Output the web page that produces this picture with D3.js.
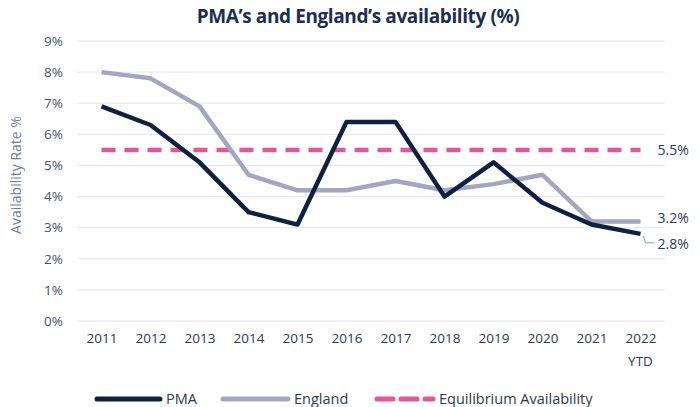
<!doctype html>
<html>
<head>
<meta charset="UTF-8">
<title>PMA availability</title>
<script src="https://d3js.org/d3.v7.min.js"></script>
<style>
  body { margin: 0; background: #fff; }
  * { font-family: "Open Sans", sans-serif; }
</style>
</head>
<body>
<svg id="chart" width="700" height="407"></svg>
<script>
// data
var years = ["2011","2012","2013","2014","2015","2016","2017","2018","2019","2020","2021","2022"];
var pma = [6.9, 6.3, 5.1, 3.5, 3.1, 6.4, 6.4, 4.0, 5.1, 3.8, 3.1, 2.8];
var england = [8.0, 7.8, 6.9, 4.7, 4.2, 4.2, 4.5, 4.2, 4.4, 4.7, 3.2, 3.2];
var equilibrium = [5.5, 5.5, 5.5, 5.5, 5.5, 5.5, 5.5, 5.5, 5.5, 5.5, 5.5, 5.5];
var yTicks = [0, 1, 2, 3, 4, 5, 6, 7, 8, 9];

var svg = d3.select("#chart");
var plotLeft = 77, plotRight = 665, plotTop = 41, plotBottom = 321;
var textCol = "#2b3a52";

var x = d3.scalePoint().domain(years).range([plotLeft, plotRight]).padding(0.5);
var y = d3.scaleLinear().domain([0, 9]).range([plotBottom, plotTop]);

// title
svg.append("text")
    .attr("x", 358).attr("y", 23)
    .attr("text-anchor", "middle")
    .attr("font-size", 19).attr("font-weight", "bold")
    .attr("fill", "#1c2f4f")
    .attr("letter-spacing", -0.4)
    .text("PMA\u2019s and England\u2019s availability (%)");

// gridlines
svg.append("g").selectAll("line").data(yTicks).enter().append("line")
    .attr("x1", plotLeft).attr("x2", plotRight)
    .attr("y1", d => y(d)).attr("y2", d => y(d))
    .attr("stroke", "#e6e6e6").attr("stroke-width", 1);

// y axis labels
var yAxis = d3.axisLeft(y).tickValues(yTicks).tickFormat(d => d + "%").tickSize(0).tickPadding(0);
var yg = svg.append("g").attr("transform", "translate(63,0)").call(yAxis);
yg.select(".domain").remove();
yg.selectAll("text").attr("font-size", 13.5).attr("fill", "#44546a").style("font-family", "Open Sans");

svg.append("text")
    .attr("transform", "translate(21,175) rotate(-90)")
    .attr("text-anchor", "middle")
    .attr("font-size", 14).attr("fill", "#6c7fa3")
    .text("Availability Rate %");

// x axis labels
var xAxis = d3.axisBottom(x).tickSize(0).tickPadding(0);
var xg = svg.append("g").attr("transform", "translate(0,333)").call(xAxis);
xg.select(".domain").remove();
xg.selectAll("text").attr("font-size", 13.5).attr("fill", textCol).style("font-family", "Open Sans");
svg.append("text")
    .attr("x", x("2022")).attr("y", 366)
    .attr("text-anchor", "middle")
    .attr("font-size", 13.5).attr("fill", textCol)
    .text("YTD");

var line = d3.line().x((d, i) => x(years[i])).y(d => y(d));

svg.append("path").datum(equilibrium)
    .attr("d", line).attr("fill", "none")
    .attr("stroke", "#e0579a").attr("stroke-width", 4.5)
    .attr("stroke-dasharray", "14,9");

svg.append("path").datum(england)
    .attr("d", line).attr("fill", "none")
    .attr("stroke", "#a3a6c2").attr("stroke-width", 4.5)
    .attr("stroke-linejoin", "round");

svg.append("path").datum(pma)
    .attr("d", line).attr("fill", "none")
    .attr("stroke", "#0e2140").attr("stroke-width", 4.5)
    .attr("stroke-linejoin", "round");

// end labels
var lastX = x("2022");
var labelX = lastX + 17;
svg.append("text").attr("x", labelX).attr("y", y(equilibrium[11]) + 5)
    .attr("font-size", 14).attr("fill", textCol).text(equilibrium[11].toFixed(1) + "%");
svg.append("text").attr("x", labelX).attr("y", y(england[11]) + 2)
    .attr("font-size", 14).attr("fill", textCol).text(england[11].toFixed(1) + "%");
svg.append("text").attr("x", labelX).attr("y", y(pma[11]) + 15)
    .attr("font-size", 14).attr("fill", textCol).text(pma[11].toFixed(1) + "%");
// leader line for PMA label
svg.append("path")
    .attr("d", "M" + (lastX + 3) + "," + (y(pma[11]) + 2) + "L" + (lastX + 5) + "," + (y(pma[11]) + 9) + "L" + (lastX + 14) + "," + (y(pma[11]) + 9))
    .attr("fill", "none").attr("stroke", "#5aaee0").attr("stroke-width", 1);

// legend
var legend = [
  { name: "PMA", color: "#0e2140", x1: 97, x2: 160, dash: null },
  { name: "England", color: "#a3a6c2", x1: 223, x2: 288, dash: null },
  { name: "Equilibrium Availability", color: "#e0579a", x1: 377, x2: 433, dash: "16,8" }
];
var lg = svg.append("g").selectAll("g").data(legend).enter().append("g");
lg.append("line")
    .attr("x1", d => d.x1).attr("x2", d => d.x2)
    .attr("y1", 399).attr("y2", 399)
    .attr("stroke", d => d.color).attr("stroke-width", 5)
    .attr("stroke-linecap", "round")
    .attr("stroke-dasharray", d => d.dash);
lg.append("text")
    .attr("x", d => d.x2 + 6).attr("y", 404)
    .attr("font-size", 14.5).attr("fill", textCol)
    .text(d => d.name);
</script>
</body>
</html>
